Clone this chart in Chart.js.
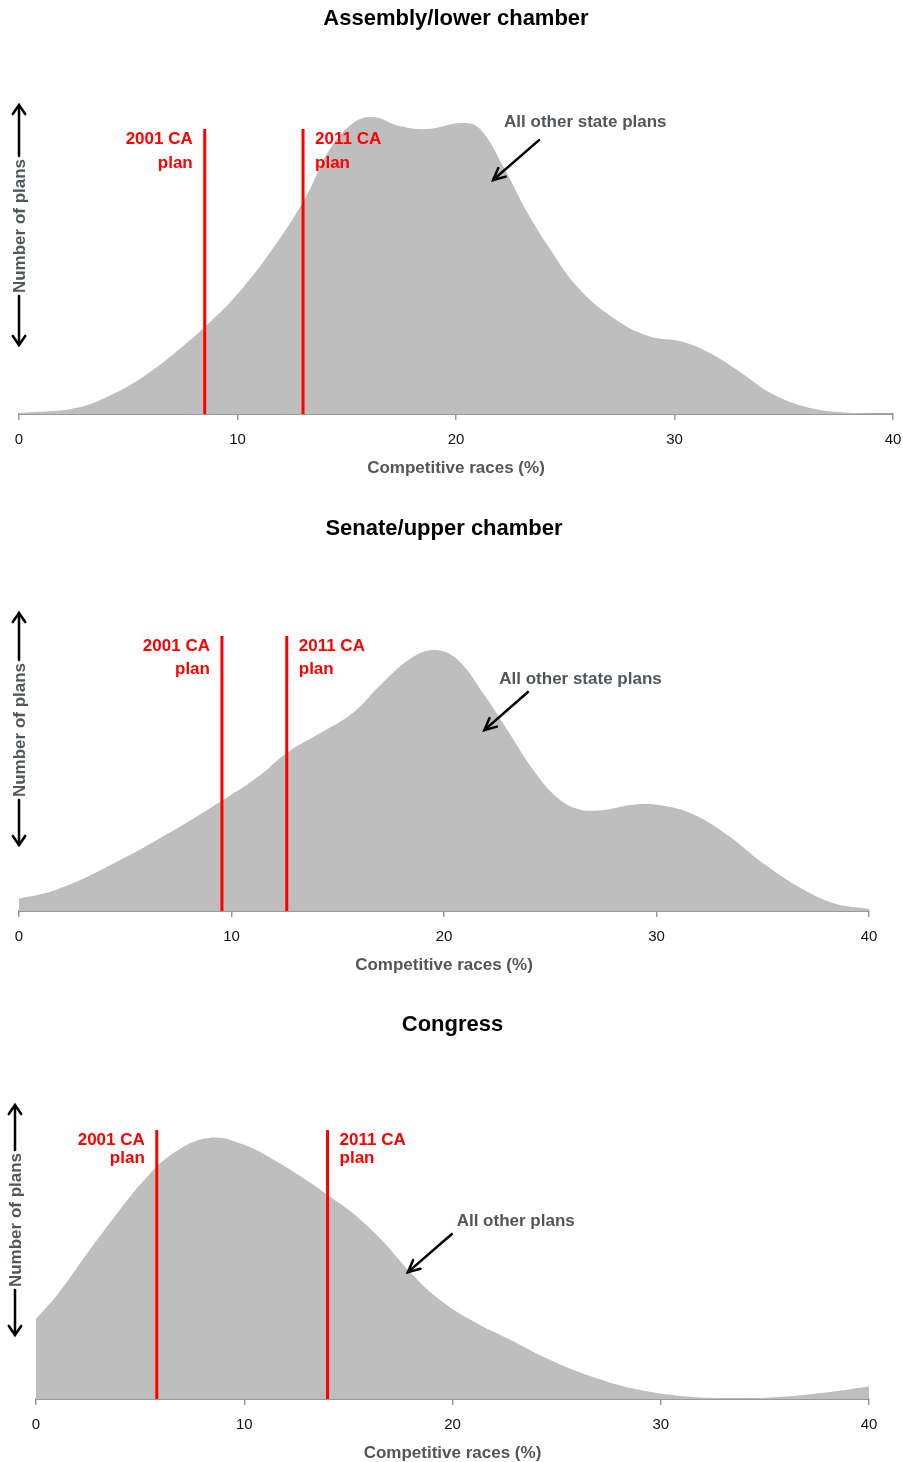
<!DOCTYPE html>
<html>
<head>
<meta charset="utf-8">
<script src="https://cdn.jsdelivr.net/npm/chart.js@4.4.1/dist/chart.umd.min.js"></script>
<style>
  html, body { margin: 0; padding: 0; background: #fff; }
  body { width: 903px; height: 1462px; position: relative; overflow: hidden; }
  .panel { position: absolute; left: 0; width: 903px; height: 490px; }
</style>
</head>
<body>
<div class="panel" style="top:0px"><canvas id="assembly" width="903" height="490"></canvas></div>
<div class="panel" style="top:497px"><canvas id="senate" width="903" height="490"></canvas></div>
<div class="panel" style="top:985px"><canvas id="congress" width="903" height="490"></canvas></div>
<script>
// Density curves (competitive races %, relative number of plans)
const assemblyX = [0, 2.6, 4.4, 6.0, 7.4, 8.5, 10, 11.6, 13.1, 14.2, 15.3, 16.2, 17.4, 18.7, 20.3, 21.1, 22.2, 23.2, 24.3, 25.6, 27.2, 28.8, 30.4, 31.7, 33.0, 34.4, 36.2, 38.3, 40];
const assemblyY = [0.3, 2, 7, 14, 22, 29, 40, 55, 72, 88, 97, 99, 96, 95, 97, 95, 82, 68, 55, 42, 32, 26, 24, 20, 14, 7, 2, 0.3, 0];

const senateX = [0, 1.8, 4.5, 7.3, 9.6, 11.3, 12.65, 14.1, 15.7, 17.1, 18.4, 19.5, 20.6, 21.9, 23.1, 24.2, 25.3, 26.3, 27.4, 29.0, 30.4, 31.8, 33.4, 35.0, 36.7, 38.3, 40];
const senateY = [4.1, 7.2, 16, 27, 37, 45, 53, 59, 66, 76, 84, 87, 84, 72, 59, 47, 38, 34, 33.6, 35.5, 35, 32, 25, 16, 8, 2.7, 0.7];

const congressX = [0, 1.05, 2.4, 3.8, 5.2, 6.6, 8.3, 9.9, 11.6, 13.3, 14.0, 15.2, 16.6, 18.0, 19.4, 21.1, 22.7, 24.7, 26.6, 28.8, 31.1, 33.3, 35.5, 37.7, 40];
const congressY = [26.7, 35, 48, 61, 73, 82, 87, 85, 79, 71.5, 68, 62, 53, 42, 33, 25.5, 20, 13, 7.7, 3.3, 0.9, 0.3, 0.6, 2, 4.2];

// CA plans: 2001 and 2011
const planLabels = ["2001 CA", "2011 CA"];
const assemblyPlans = [8.5, 13.0];
const senatePlans = [9.55, 12.6];
const congressPlans = [5.8, 14.0];

const xTicks = [0, 10, 20, 30, 40];

const FONT = '"Liberation Sans", Arial, sans-serif';
const GREY_TEXT = "#4f575b";

const panels = [
  {
    id: "assembly", title: "Assembly/lower chamber", titleY: 19,
    xs: assemblyX, ys: assemblyY, plans: assemblyPlans,
    pad: { left: 19, right: 10 }, lineTop: 95, labelGap: 24,
    note: "All other state plans", noteAt: [22.2, 97.3], arrow: [23.8, 91.3, 21.7, 78],
    yArrow: { x: 19, top: 105, bottom: 345, mid: 226 }
  },
  {
    id: "senate", title: "Senate/upper chamber", titleY: 32,
    xs: senateX, ys: senateY, plans: senatePlans,
    pad: { left: 19, right: 34 }, lineTop: 91.7, labelGap: 23,
    note: "All other state plans", noteAt: [22.6, 77.3], arrow: [23.95, 73, 21.9, 60.3],
    yArrow: { x: 19, top: 116, bottom: 348, mid: 233 }
  },
  {
    id: "congress", title: "Congress", titleY: 40,
    xs: congressX, ys: congressY, plans: congressPlans,
    pad: { left: 36, right: 34 }, lineTop: 89.7, labelGap: 18,
    note: "All other plans", noteAt: [20.2, 59.3], arrow: [19.97, 55, 17.86, 42.3],
    yArrow: { x: 15, top: 120, bottom: 350, mid: 235 }
  }
];

function arrowHead(ctx, x, y, ang, len, spread) {
  ctx.beginPath();
  ctx.moveTo(x - len * Math.cos(ang - spread), y - len * Math.sin(ang - spread));
  ctx.lineTo(x, y);
  ctx.lineTo(x - len * Math.cos(ang + spread), y - len * Math.sin(ang + spread));
  ctx.stroke();
}

// labels, arrows and the "Number of plans" axis marker
const annotate = {
  id: "annotate",
  afterDatasetsDraw(chart) {
    const p = chart.options.plugins.annotate;
    const { ctx } = chart;
    const x = chart.scales.x, y = chart.scales.y;
    ctx.save();

    // red plan labels
    ctx.font = "bold 17px " + FONT;
    ctx.fillStyle = "#ff0000";
    ctx.textBaseline = "middle";
    const top = y.getPixelForValue(p.lineTop);
    p.plans.forEach((v, i) => {
      const px = x.getPixelForValue(v);
      const left = i === 0;
      ctx.textAlign = left ? "right" : "left";
      const tx = left ? px - 12 : px + 12;
      ctx.fillText(planLabels[i], tx, top + 10);
      ctx.fillText("plan", tx, top + 10 + p.labelGap);
    });

    // grey note + arrow
    ctx.fillStyle = GREY_TEXT;
    ctx.textAlign = "left";
    ctx.fillText(p.note, x.getPixelForValue(p.noteAt[0]), y.getPixelForValue(p.noteAt[1]));
    const [a1, b1, a2, b2] = p.arrow;
    const x1 = x.getPixelForValue(a1), y1 = y.getPixelForValue(b1);
    const x2 = x.getPixelForValue(a2), y2 = y.getPixelForValue(b2);
    ctx.strokeStyle = "#000";
    ctx.lineWidth = 2.5;
    ctx.lineCap = "round";
    ctx.beginPath();
    ctx.moveTo(x1, y1);
    ctx.lineTo(x2, y2);
    ctx.stroke();
    arrowHead(ctx, x2, y2, Math.atan2(y2 - y1, x2 - x1), 13, 0.45);

    // vertical double arrow with rotated label
    const ya = p.yArrow;
    ctx.font = "bold 17px " + FONT;
    const w = ctx.measureText("Number of plans").width;
    ctx.beginPath();
    ctx.moveTo(ya.x, ya.top);
    ctx.lineTo(ya.x, ya.mid - w / 2 - 3);
    ctx.moveTo(ya.x, ya.mid + w / 2 + 3);
    ctx.lineTo(ya.x, ya.bottom);
    ctx.stroke();
    arrowHead(ctx, ya.x, ya.top, -Math.PI / 2, 11, 0.6);
    arrowHead(ctx, ya.x, ya.bottom, Math.PI / 2, 11, 0.6);
    ctx.save();
    ctx.translate(ya.x, ya.mid);
    ctx.rotate(-Math.PI / 2);
    ctx.textAlign = "center";
    ctx.textBaseline = "middle";
    ctx.fillStyle = GREY_TEXT;
    ctx.fillText("Number of plans", 0, 1);
    ctx.restore();

    ctx.restore();
  }
};

panels.forEach(p => {
  const curve = p.xs.map((v, i) => ({ x: v, y: p.ys[i] }));
  const planSets = p.plans.map(v => ({
    data: [{ x: v, y: 0 }, { x: v, y: p.lineTop }],
    borderColor: "#ff0000",
    borderWidth: 3,
    pointRadius: 0,
    fill: false,
    tension: 0,
    order: 1
  }));

  new Chart(document.getElementById(p.id), {
    type: "line",
    data: {
      datasets: [
        {
          data: curve,
          backgroundColor: "#bebebe",
          borderWidth: 0,
          borderColor: "#bebebe",
          pointRadius: 0,
          fill: "origin",
          tension: 0.4,
          order: 2
        },
        ...planSets
      ]
    },
    options: {
      responsive: false,
      animation: false,
      layout: { padding: { top: 0, bottom: 0, left: p.pad.left, right: p.pad.right } },
      plugins: {
        legend: { display: false },
        tooltip: { enabled: false },
        title: {
          display: true,
          text: p.title,
          color: "#000",
          font: { family: FONT, size: 22, weight: "bold", lineHeight: 1.2 },
          padding: { top: p.titleY - 13.2, bottom: 114 - (p.titleY - 13.2) - 26.4 }
        },
        annotate: p
      },
      scales: {
        x: {
          type: "linear",
          min: 0,
          max: 40,
          afterBuildTicks: s => { s.ticks = xTicks.map(v => ({ value: v })); },
          afterFit: s => { s.height = 76; s.paddingLeft = 0; s.paddingRight = 0; },
          ticks: {
            color: "#111",
            padding: 11,
            font: { family: FONT, size: 15 }
          },
          grid: { drawOnChartArea: false, drawTicks: true, tickLength: 6, color: "#9a9a9a", lineWidth: 1.5 },
          border: { display: true, color: "#9a9a9a", width: 2 },
          title: {
            display: true,
            text: "Competitive races (%)",
            color: GREY_TEXT,
            font: { family: FONT, size: 17, weight: "bold" },
            padding: { top: 0, bottom: 11 }
          }
        },
        y: { display: false, min: 0, max: 100 }
      }
    },
    plugins: [annotate]
  });
});
</script>
</body>
</html>
